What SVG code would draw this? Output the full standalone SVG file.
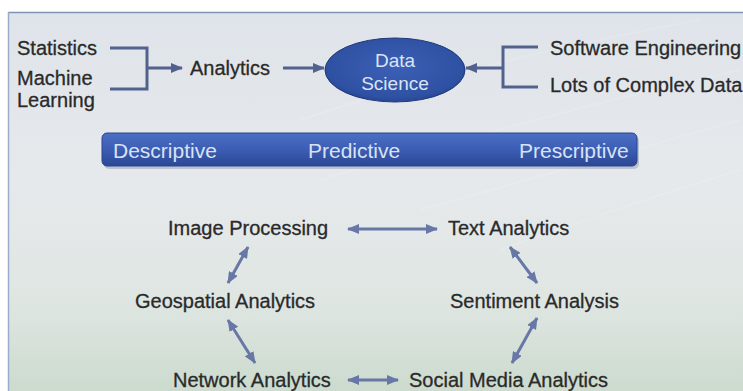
<svg xmlns="http://www.w3.org/2000/svg" width="743" height="391" viewBox="0 0 743 391">
  <defs>
    <linearGradient id="bg" x1="0" y1="0" x2="0" y2="1">
      <stop offset="0" stop-color="#dfe4ea"/>
      <stop offset="0.45" stop-color="#e6e9ec"/>
      <stop offset="0.75" stop-color="#dfe6e2"/>
      <stop offset="1" stop-color="#cbdacd"/>
    </linearGradient>
    <radialGradient id="ell" cx="0.5" cy="0.45" r="0.6">
      <stop offset="0" stop-color="#3c60b6"/>
      <stop offset="0.8" stop-color="#2f51a3"/>
      <stop offset="1" stop-color="#243f86"/>
    </radialGradient>
    <linearGradient id="bar" x1="0" y1="0" x2="0" y2="1">
      <stop offset="0" stop-color="#4c6fc4"/>
      <stop offset="0.5" stop-color="#3b5db3"/>
      <stop offset="1" stop-color="#2b4895"/>
    </linearGradient>
    <marker id="ah" viewBox="0 0 12 10" markerUnits="userSpaceOnUse" markerWidth="12" markerHeight="10" refX="11" refY="5" orient="auto-start-reverse">
      <path d="M0,0 L12,5 L0,10 z" fill="#52628e"/>
    </marker>
    <marker id="ah2" viewBox="0 0 12 10" markerUnits="userSpaceOnUse" markerWidth="12" markerHeight="10" refX="11" refY="5" orient="auto-start-reverse">
      <path d="M0,0 L12,5 L0,10 z" fill="#6877a6"/>
    </marker>
    <style>
      .t { font-family: "Liberation Sans", Arial, sans-serif; font-size: 20px; fill: #2a2a2a; stroke: #2a2a2a; stroke-width: 0.3; }
      .w { font-family: "Liberation Sans", Arial, sans-serif; font-size: 19px; fill: #dbe4f4; text-anchor: middle; }
      .b { font-family: "Liberation Sans", Arial, sans-serif; font-size: 21px; fill: #d9e2f4; }
      .br { fill: none; stroke: #52628e; stroke-width: 3; }
      .ar { fill: none; stroke: #52628e; stroke-width: 3; marker-end: url(#ah); }
      .dar { fill: none; stroke: #6877a6; stroke-width: 3; marker-start: url(#ah2); marker-end: url(#ah2); }
    </style>
  </defs>

  <rect x="0" y="0" width="743" height="391" fill="#ffffff"/>
  <rect x="8" y="12" width="740" height="385" fill="url(#bg)"/>
  <line x1="8" y1="12.5" x2="743" y2="12.5" stroke="#7f92b4" stroke-width="1.5"/>
  <line x1="8.5" y1="12" x2="8.5" y2="391" stroke="#9aaccb" stroke-width="1.5"/>
  <g stroke="#ffffff" stroke-opacity="0.12" stroke-width="2" fill="none">
    <path d="M300,120 Q480,60 700,20"/>
    <path d="M320,180 Q520,120 740,70"/>
    <path d="M420,210 Q600,160 740,120"/>
    <path d="M500,250 Q640,200 740,170"/>
  </g>

  <g id="connectors">
    <path class="br" d="M110,48 H147 V89 H110"/>
    <path class="ar" d="M147,68 H182"/>
    <path class="ar" d="M283,68 H324"/>
    <path class="br" d="M538,47 H503 V87 H538"/>
    <path class="ar" d="M503,68 H466"/>
    <path class="dar" d="M348,229 H437"/>
    <path class="dar" d="M248,247 L228,283"/>
    <path class="dar" d="M228,320 L255,363"/>
    <path class="dar" d="M510,247 L537,283"/>
    <path class="dar" d="M537,318 L512,363"/>
    <path class="dar" d="M348,380 H398"/>
  </g>

  <g id="statistics"><text class="t" x="17" y="55">Statistics</text></g>
  <g id="machine-learning"><text class="t" x="17" y="85">Machine</text><text class="t" x="17" y="107">Learning</text></g>
  <g id="analytics"><text class="t" x="190" y="75">Analytics</text></g>
  <g id="data-science">
    <ellipse cx="395" cy="70" rx="70" ry="32" fill="url(#ell)" stroke="#22397a" stroke-width="1"/>
    <text class="w" x="395" y="67">Data</text>
    <text class="w" x="395" y="90">Science</text>
  </g>
  <g id="software-engineering"><text class="t" x="550" y="55">Software Engineering</text></g>
  <g id="complex-data"><text class="t" x="550" y="92">Lots of Complex Data</text></g>

  <g id="types-bar">
    <rect x="104" y="136" width="535" height="33" rx="5" fill="#8a96ae" opacity="0.45"/>
    <rect x="102" y="133" width="535" height="33" rx="5" fill="url(#bar)" stroke="#2a4590" stroke-width="1"/>
    <text class="b" x="113" y="158">Descriptive</text>
    <text class="b" x="308" y="158">Predictive</text>
    <text class="b" x="519" y="158">Prescriptive</text>
  </g>

  <g id="image-processing"><text class="t" x="168" y="235">Image Processing</text></g>
  <g id="text-analytics"><text class="t" x="448" y="235">Text Analytics</text></g>
  <g id="geospatial-analytics"><text class="t" x="135" y="308">Geospatial Analytics</text></g>
  <g id="sentiment-analysis"><text class="t" x="450" y="308">Sentiment Analysis</text></g>
  <g id="network-analytics"><text class="t" x="173" y="387">Network Analytics</text></g>
  <g id="social-media-analytics"><text class="t" x="409" y="387">Social Media Analytics</text></g>
</svg>
